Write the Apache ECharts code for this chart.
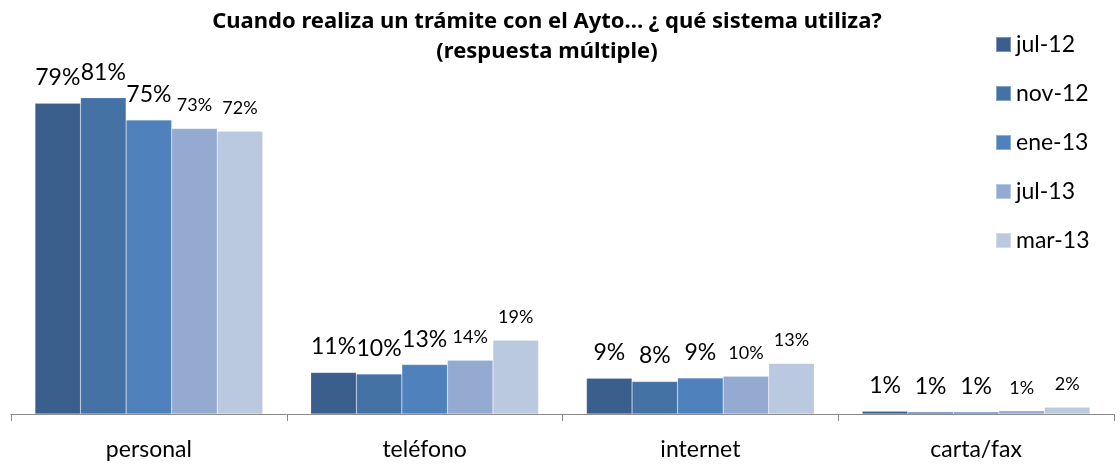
<!DOCTYPE html>
<html>
<head>
<meta charset="utf-8">
<script src="https://cdn.jsdelivr.net/npm/echarts@6/dist/echarts.min.js"></script>
<style>
  html, body { margin: 0; padding: 0; background: #fff; }
  #chart { width: 1120px; height: 465px; }
</style>
</head>
<body>
<div id="chart"></div>
<script>
const categories = ['personal', 'teléfono', 'internet', 'carta/fax']
const seriesNames = ['jul-12', 'nov-12', 'ene-13', 'jul-13', 'mar-13']
// valores por serie, en el orden de categories
const jul12 = [79.3, 10.6, 9.1, 0.7]
const nov12 = [80.7, 10.2, 8.3, 0.5]
const ene13 = [75.0, 12.6, 9.2, 0.5]
const jul13 = [72.8, 13.7, 9.6, 0.8]
const mar13 = [72.1, 18.8, 12.9, 1.7]
const colors = ['#3A5F8C', '#4472A5', '#4F81BD', '#95AAD1', '#BAC8E0']
const labelSizes = [23, 23, 23, 18, 18]

const FONT = 'Lato, "Open Sans", sans-serif'

let allValues = [jul12, nov12, ene13, jul13, mar13]
let series = []
for (let i = 0; i < allValues.length; i++) {
  series.push({
    name: seriesNames[i],
    type: 'bar',
    data: allValues[i],
    barGap: 0,
    barCategoryGap: '17.4%',
    itemStyle: {
      color: colors[i],
      borderColor: 'rgba(255,255,255,0.35)',
      borderWidth: 0.5
    },
    label: {
      show: true,
      position: 'top',
      distance: 14,
      color: '#000',
      fontFamily: FONT,
      fontSize: labelSizes[i],
      formatter: p => Math.round(p.value) + '%'
    }
  })
}

let myChart = echarts.init(document.getElementById('chart'))
let option = {
  animation: false,
  title: {
    text: 'Cuando realiza un trámite con el Ayto... ¿ qué sistema utiliza?\n(respuesta múltiple)',
    left: 547,
    textAlign: 'center',
    top: 7,
    padding: 0,
    textStyle: {
      fontFamily: '"Noto Sans", sans-serif',
      fontWeight: 'bold',
      fontSize: 22,
      lineHeight: 30,
      color: '#000'
    }
  },
  legend: {
    orient: 'vertical',
    left: 995,
    top: 33,
    padding: 0,
    itemWidth: 15,
    itemHeight: 15,
    itemGap: 26,
    icon: 'rect',
    textStyle: {
      fontFamily: FONT,
      fontSize: 23,
      color: '#000'
    },
    data: seriesNames
  },
  grid: {
    left: 11,
    right: 6,
    top: 22,
    bottom: 51,
    containLabel: false
  },
  xAxis: {
    type: 'category',
    data: categories,
    axisLine: { lineStyle: { color: '#888', width: 1 } },
    axisTick: { show: true, length: 7, lineStyle: { color: '#888' } },
    axisLabel: {
      margin: 24,
      fontFamily: FONT,
      fontSize: 23,
      color: '#000'
    }
  },
  yAxis: {
    type: 'value',
    min: 0,
    max: 100,
    show: false
  },
  series: series
}
myChart.setOption(option)
</script>
</body>
</html>
